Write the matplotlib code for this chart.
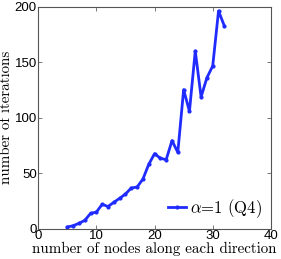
import matplotlib
matplotlib.use('Agg')
from matplotlib import pyplot as plt

plt.rcParams.update({'mathtext.fontset': 'cm', 'axes.unicode_minus': False})

nodes = list(range(5, 33))
iterations = [1.5, 2.7, 4.8, 7.5, 13.8, 15, 22, 20, 23.8, 27.4, 31.3, 36.7,
              37.6, 44.8, 58, 67.7, 63.5, 62.3, 79.4, 68.9, 125.4, 105.9,
              160.3, 118.8, 136.2, 146.8, 196.4, 182.9]

fig = plt.figure(figsize=(2.81, 2.59), dpi=100)
ax = fig.add_axes([0.136, 0.117, 0.828, 0.856])

ax.plot(nodes, iterations, '.-', color='#1f2bff', lw=2, ms=4,
        label=r'$\alpha$=1 (Q4)')

ax.set_xlim(0, 40)
ax.set_ylim(0, 200)
ax.set_xticks([0, 10, 20, 30, 40])
ax.set_yticks([0, 50, 100, 150, 200])
ax.tick_params(direction='in', top=True, right=True, labelsize=9.5,
               length=3, width=0.5, color='#444444', pad=1)
for s in ax.spines.values():
    s.set_linewidth(0.8)
    s.set_color('#555555')
for t in ax.get_xticklabels() + ax.get_yticklabels():
    t.set_family('Liberation Sans')

ax.set_xlabel('number of nodes along each direction', family='cmr10',
              fontsize=10.8, labelpad=0)
ax.set_ylabel('number of iterations', family='cmr10', fontsize=10.8,
              labelpad=1)

leg = ax.legend(loc='lower right', frameon=False, handlelength=1.1,
                borderaxespad=0.15, handletextpad=0.2,
                prop={'family': 'cmr10', 'size': 12})

fig.savefig('out.png', dpi=100)
